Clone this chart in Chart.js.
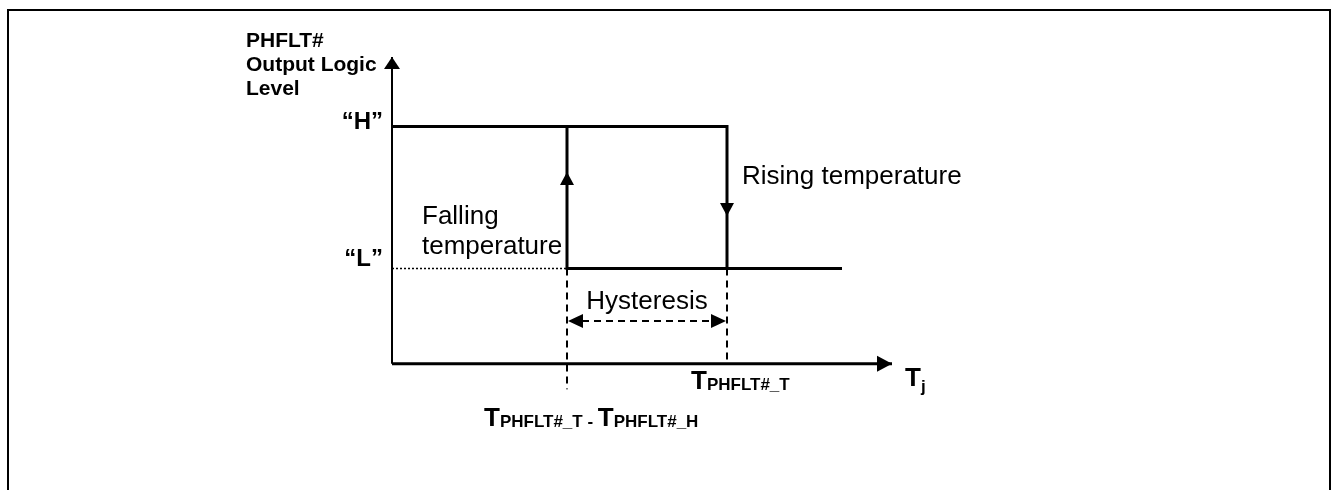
<!DOCTYPE html>
<html>
<head>
<meta charset="utf-8">
<script src="https://cdn.jsdelivr.net/npm/chart.js@4/dist/chart.umd.min.js"></script>
<style>
  body { margin: 0; background: #fff; }
  #wrap { width: 1333px; height: 490px; position: relative; }
</style>
</head>
<body>
<div id="wrap"><canvas id="myChart"></canvas></div>
<script>
// logic levels on the vertical axis
var levelNames = ['\u201CL\u201D', '\u201CH\u201D'];
var levelValues = [0, 1];
// trip temperatures on the Tj axis (T_PHFLT#_T - T_PHFLT#_H, T_PHFLT#_T)
var tripTemps = [35, 67];
// output trace, rising temperature path
var riseX = [0, 67, 67, 90];
var riseY = [1, 1, 0, 0];
// output trace, falling temperature path
var fallX = [90, 35, 35];
var fallY = [0, 0, 1];
// where the arrows sit on the two edges
var edgeArrowY = [0.68, 0.37];
// axes of the diagram
var axisX = [0, 100];
var axisY = [-0.67, 1.49];
// lower ends of the dashed guide lines
var guideBottom = [-0.85, -0.67];
// level of the hysteresis arrow
var hystY = -0.37;

var FONT = "'Liberation Sans', Arial, sans-serif";

function pts(xs, ys) {
  return xs.map(function (x, i) { return { x: x, y: ys[i] }; });
}

function line(data, width, dash) {
  return {
    data: data,
    borderColor: '#000',
    borderWidth: width,
    borderDash: dash || [],
    pointRadius: 0,
    fill: false,
    tension: 0,
    clip: false,
    borderCapStyle: 'butt'
  };
}

// filled arrow head, dir = 'up' | 'down' | 'left' | 'right'
function head(ctx, x, y, dir, len, half) {
  ctx.beginPath();
  ctx.moveTo(x, y);
  if (dir == 'up') { ctx.lineTo(x - half, y + len); ctx.lineTo(x + half, y + len); }
  if (dir == 'down') { ctx.lineTo(x - half, y - len); ctx.lineTo(x + half, y - len); }
  if (dir == 'right') { ctx.lineTo(x - len, y - half); ctx.lineTo(x - len, y + half); }
  if (dir == 'left') { ctx.lineTo(x + len, y - half); ctx.lineTo(x + len, y + half); }
  ctx.closePath();
  ctx.fill();
}

// text with subscripts: parts = [[text, font, dy], ...]
function rich(ctx, x, y, parts) {
  ctx.textAlign = 'left';
  ctx.textBaseline = 'alphabetic';
  parts.forEach(function (p) {
    ctx.font = p[1];
    ctx.fillText(p[0], x, y + (p[2] || 0));
    x += ctx.measureText(p[0]).width;
  });
}

var decor = {
  id: 'decor',
  afterDatasetsDraw: function (chart) {
    var ctx = chart.ctx;
    var sx = chart.scales.x, sy = chart.scales.y;
    var px = function (v) { return sx.getPixelForValue(v); };
    var py = function (v) { return sy.getPixelForValue(v); };
    ctx.save();
    ctx.fillStyle = '#000';
    ctx.strokeStyle = '#000';

    // outer frame
    ctx.lineWidth = 2;
    ctx.beginPath();
    ctx.moveTo(8, 490);
    ctx.lineTo(8, 10);
    ctx.lineTo(1330, 10);
    ctx.lineTo(1330, 490);
    ctx.stroke();

    var x0 = px(axisX[0]), yA = py(axisY[0]);
    // axis arrow heads
    head(ctx, x0, py(axisY[1]), 'up', 12, 8);
    head(ctx, px(axisX[1]), yA, 'right', 15, 8);
    // edge arrows
    head(ctx, px(fallX[1]), py(edgeArrowY[0]), 'up', 13, 7);
    head(ctx, px(riseX[2]), py(edgeArrowY[1]), 'down', 13, 7);
    // hysteresis arrows
    head(ctx, px(tripTemps[0]) + 1, py(hystY), 'left', 15, 7);
    head(ctx, px(tripTemps[1]) - 1, py(hystY), 'right', 15, 7);

    // y axis title
    ctx.font = 'bold 21px ' + FONT;
    ctx.textAlign = 'left';
    ctx.textBaseline = 'alphabetic';
    ctx.fillText('PHFLT#', x0 - 146, 47);
    ctx.fillText('Output Logic', x0 - 146, 71);
    ctx.fillText('Level', x0 - 146, 95);

    // level names
    ctx.font = 'bold 24px ' + FONT;
    ctx.textAlign = 'right';
    ctx.fillText(levelNames[1], x0 - 9, py(levelValues[1]) + 2);
    ctx.fillText(levelNames[0], x0 - 9, py(levelValues[0]) - 3);

    // edge captions
    ctx.font = '26px ' + FONT;
    ctx.textAlign = 'left';
    ctx.fillText('Falling', x0 + 30, py(0) - 45);
    ctx.fillText('temperature', x0 + 30, py(0) - 15);
    ctx.fillText('Rising temperature', px(riseX[2]) + 15, py(1) + 57);
    ctx.textAlign = 'center';
    ctx.fillText('Hysteresis', (px(tripTemps[0]) + px(tripTemps[1])) / 2, py(hystY) - 12);

    // temperature labels
    var big = 'bold 26px ' + FONT, sub = 'bold 17px ' + FONT;
    rich(ctx, px(tripTemps[1]) - 36, yA + 25, [['T', big], ['PHFLT#_T', sub, 1]]);
    rich(ctx, px(tripTemps[0]) - 83, yA + 62, [
      ['T', big], ['PHFLT#_T', sub, 1], [' - ', sub, 1], ['T', big], ['PHFLT#_H', sub, 1]
    ]);
    rich(ctx, px(axisX[1]) + 13, yA + 22, [['T', big], ['j', sub, 6]]);

    ctx.restore();
  }
};

var ctx = document.getElementById('myChart').getContext('2d');
var myChart = new Chart(ctx, {
  type: 'line',
  data: {
    datasets: [
      line(pts([axisX[0], axisX[0]], axisY), 2),                       // y axis
      line(pts(axisX, [axisY[0], axisY[0]]), 3),                       // x axis
      line(pts([axisX[0], tripTemps[0]], [levelValues[0], levelValues[0]]), 1.5, [2, 2]),
      line(pts([tripTemps[0], tripTemps[0]], [levelValues[0], guideBottom[0]]), 2, [7, 5]),
      line(pts([tripTemps[1], tripTemps[1]], [levelValues[0], guideBottom[1]]), 2, [7, 5]),
      line(pts([tripTemps[0] + 3, tripTemps[1] - 3], [hystY, hystY]), 2, [7, 5]),
      line(pts(riseX, riseY), 3),
      line(pts(fallX, fallY), 3)
    ]
  },
  options: {
    responsive: true,
    maintainAspectRatio: false,
    animation: false,
    layout: { padding: { left: 292, right: 341, top: 20, bottom: 44 } },
    scales: {
      x: { type: 'linear', min: -20, max: 120, display: false },
      y: { type: 'linear', min: -1.25, max: 1.75, display: false }
    },
    plugins: { legend: { display: false }, tooltip: { enabled: false } }
  },
  plugins: [decor]
});
</script>
</body>
</html>
